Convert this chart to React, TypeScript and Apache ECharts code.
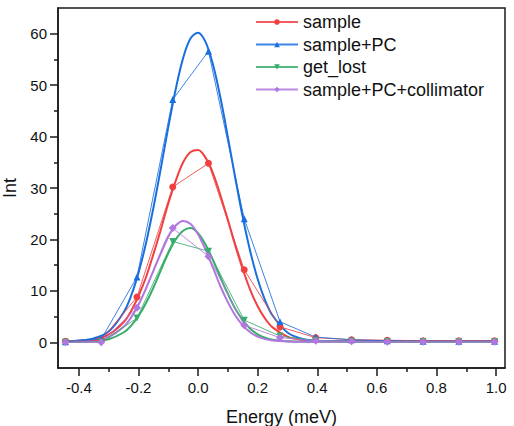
import React, { useEffect, useRef } from "react";
import * as echarts from "echarts";

// measured data points
const pointX = [-0.445, -0.325, -0.205, -0.085, 0.035, 0.155, 0.275, 0.395, 0.515, 0.635, 0.755, 0.875, 0.995];
const sample = [0.2, 0.4, 8.8, 30.2, 34.8, 14.1, 3.0, 0.9, 0.5, 0.4, 0.3, 0.3, 0.3];
const samplePC = [0.1, 0.6, 12.7, 47.2, 56.6, 24.0, 4.0, 1.0, 0.5, 0.3, 0.2, 0.2, 0.2];
const getLost = [0.0, 0.0, 4.7, 19.6, 17.7, 4.3, 1.2, 0.3, 0.2, 0.1, 0.1, 0.1, 0.1];
const samplePCColl = [0.0, 0.0, 6.7, 22.2, 16.7, 3.3, 0.9, 0.3, 0.2, 0.1, 0.1, 0.1, 0.1];

// fitted curves
const fitX = [-0.445, -0.4, -0.35, -0.3, -0.25, -0.225, -0.2, -0.175, -0.15, -0.125, -0.1, -0.075, -0.05, -0.025, 0, 0.025, 0.05, 0.075, 0.1, 0.125, 0.15, 0.175, 0.2, 0.225, 0.25, 0.3, 0.35, 0.4, 0.5, 0.6, 0.7, 0.8, 0.9, 0.995];
const sampleFit = [0.2, 0.3, 0.6, 1.5, 3.9, 6.05, 9.0, 12.6, 17.1, 21.9, 27.0, 31.4, 35.0, 37.0, 37.4, 35.9, 32.9, 28.6, 23.8, 18.8, 14.2, 10.2, 7.0, 4.6, 2.9, 1.1, 0.44, 0.25, 0.2, 0.2, 0.2, 0.2, 0.2, 0.2];
const samplePCFit = [0.2, 0.33, 0.76, 2.1, 5.8, 9.0, 13.5, 19.2, 26.1, 33.8, 41.8, 49.2, 55.3, 59.1, 60.2, 58.4, 54.0, 47.6, 39.9, 31.9, 24.3, 17.7, 12.3, 8.15, 5.2, 1.9, 0.67, 0.31, 0.2, 0.2, 0.2, 0.2, 0.2, 0.2];
const getLostFit = [0.1, 0.1, 0.2, 0.6, 1.9, 3.2, 5.1, 7.6, 10.6, 14.0, 17.3, 20.0, 21.7, 22.2, 21.2, 19.0, 16.0, 12.6, 9.4, 6.5, 4.3, 2.65, 1.55, 0.88, 0.5, 0.18, 0.1, 0.1, 0.1, 0.1, 0.1, 0.1, 0.1, 0.1];
const samplePCCollFit = [0.1, 0.14, 0.3, 1.0, 3.0, 4.8, 7.3, 10.4, 13.9, 17.4, 20.6, 22.7, 23.6, 23.0, 21.0, 18.0, 14.5, 10.9, 7.8, 5.2, 3.3, 1.94, 1.1, 0.62, 0.35, 0.15, 0.1, 0.1, 0.1, 0.1, 0.1, 0.1, 0.1, 0.1];

const seriesNames = ["sample", "sample+PC", "get_lost", "sample+PC+collimator"];
const colors = ["#F14040", "#1A6FDF", "#37AD6B", "#B177DE"];
const symbols = ["circle", "triangle", "path://M0,10L-8.66,-5L8.66,-5Z", "diamond"];

const xMajor = [-0.4, -0.2, 0.0, 0.2, 0.4, 0.6, 0.8, 1.0];
const xMinor = [-0.3, -0.1, 0.1, 0.3, 0.5, 0.7, 0.9];
const yMajor = [0, 10, 20, 30, 40, 50, 60];
const yMinor = [5, 15, 25, 35, 45, 55];

const FONT = "'Liberation Sans', Arial, sans-serif";
const AXIS_COLOR = "#1a1a1a";

export default function App() {
  const ref = useRef<HTMLDivElement>(null);
  useEffect(() => {
    if (!ref.current) return;
    const chart = echarts.init(ref.current, undefined, { renderer: "svg" });
    const pointSets = [sample, samplePC, getLost, samplePCColl];
    const fitSets = [sampleFit, samplePCFit, getLostFit, samplePCCollFit];

    const dataSeries = pointSets.map((vals, i) => ({
      name: seriesNames[i],
      type: "line",
      xAxisIndex: 0,
      yAxisIndex: 0,
      data: pointX.map((x, k) => [x, vals[k]]),
      symbol: symbols[i],
      symbolSize: i === 3 ? 8 : 7,
      showSymbol: true,
      lineStyle: { width: 1, color: colors[i], opacity: 0.85 },
      itemStyle: { color: colors[i] },
      z: 3,
    }));
    const fitSeries = fitSets.map((vals, i) => ({
      name: seriesNames[i] + " fit",
      type: "line",
      xAxisIndex: 0,
      yAxisIndex: 0,
      data: fitX.map((x, k) => [x, vals[k]]),
      symbol: "none",
      smooth: 0.35,
      lineStyle: { width: 2, color: colors[i] },
      silent: true,
      z: 2,
    }));

    const baseAxisLabel = { fontFamily: FONT, fontSize: 15, color: "#111" };

    chart.setOption({
      animation: false,
      backgroundColor: "#fff",
      grid: {
        left: 58,
        right: 9,
        top: 8,
        bottom: 58,
        outerBoundsMode: "none",
        containLabel: false,
        show: true,
        borderColor: AXIS_COLOR,
        borderWidth: 1.5,
        backgroundColor: "transparent",
      },
      legend: {
        data: seriesNames,
        orient: "vertical",
        left: 250,
        top: 7,
        itemWidth: 42,
        itemHeight: 7,
        itemGap: 2.5,
        textStyle: { fontFamily: FONT, fontSize: 18, color: "#111", lineHeight: 20 },
      },
      xAxis: [
        {
          type: "value",
          min: -0.47,
          max: 1.03,
          name: "Energy (meV)",
          nameLocation: "middle",
          nameGap: 40,
          nameTextStyle: { fontFamily: FONT, fontSize: 18, color: "#111" },
          axisLine: { onZero: false, lineStyle: { color: AXIS_COLOR, width: 1.5 } },
          axisTick: { customValues: xMajor, length: 8, lineStyle: { color: AXIS_COLOR, width: 1.5 } },
          axisLabel: {
            ...baseAxisLabel,
            customValues: xMajor,
            margin: 12,
            formatter: (v: number) => v.toFixed(1),
          },
          splitLine: { show: false },
        },
        {
          type: "value",
          min: -0.47,
          max: 1.03,
          position: "bottom",
          axisLine: { show: false, onZero: false },
          axisTick: { customValues: xMinor, length: 4, lineStyle: { color: AXIS_COLOR, width: 1.5 } },
          axisLabel: { show: false },
          splitLine: { show: false },
        },
      ],
      yAxis: [
        {
          type: "value",
          min: -5,
          max: 65,
          name: "Int",
          nameLocation: "middle",
          nameGap: 35,
          nameTextStyle: { fontFamily: FONT, fontSize: 18, color: "#111" },
          axisLine: { onZero: false, lineStyle: { color: AXIS_COLOR, width: 1.5 } },
          axisTick: { customValues: yMajor, length: 8, lineStyle: { color: AXIS_COLOR, width: 1.5 } },
          axisLabel: { ...baseAxisLabel, customValues: yMajor, margin: 11 },
          splitLine: { show: false },
        },
        {
          type: "value",
          min: -5,
          max: 65,
          position: "left",
          axisLine: { show: false, onZero: false },
          axisTick: { customValues: yMinor, length: 4, lineStyle: { color: AXIS_COLOR, width: 1.5 } },
          axisLabel: { show: false },
          splitLine: { show: false },
        },
      ],
      series: [...fitSeries, ...dataSeries],
    });
    return () => chart.dispose();
  }, []);
  return (
    <div
      ref={ref}
      style={{ position: "fixed", left: 0, top: 0, width: 514, height: 426, background: "#fff" }}
    />
  );
}
